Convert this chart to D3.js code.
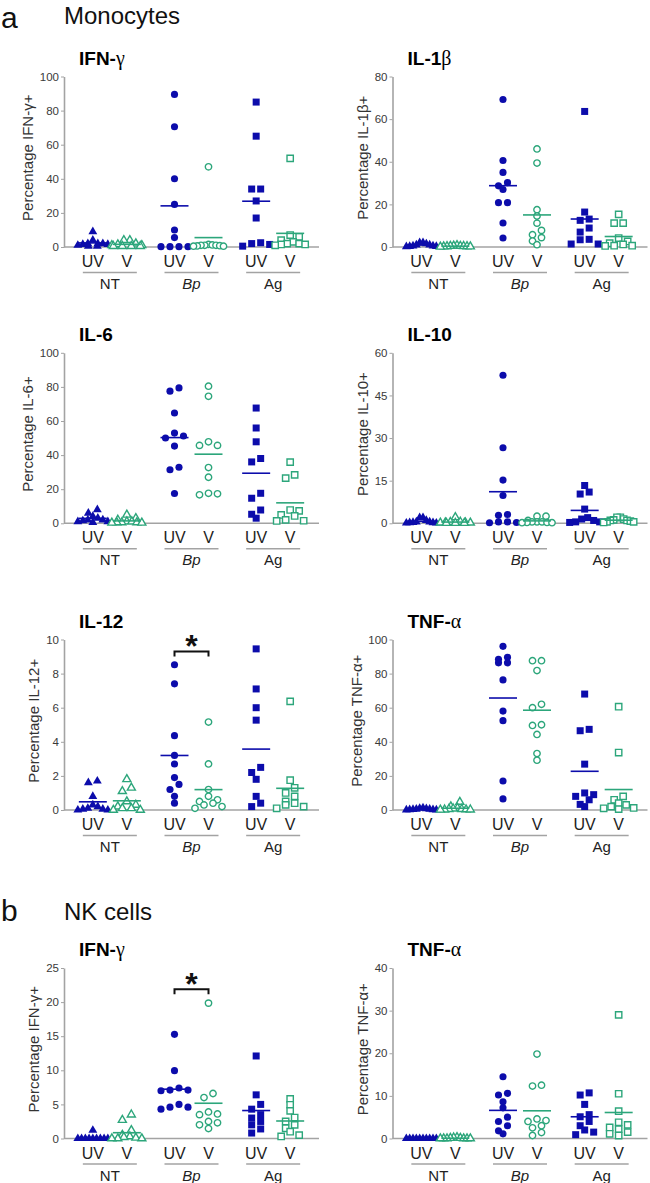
<!DOCTYPE html>
<html><head><meta charset="utf-8">
<script src="https://cdn.jsdelivr.net/npm/d3@7"></script>
<style>body{margin:0;background:#fff} svg{display:block}</style>
</head><body>
<svg id="c" width="650" height="1183"></svg>
<script>
// ---------- DATA ----------
const groups = ["NT", "Bp", "Ag"];
const conditions = ["UV", "V"];
// each panel: [NT-UV, NT-V, Bp-UV, Bp-V, Ag-UV, Ag-V]  (percentage positive cells)
const monoIFNg = [
  [9, 4, 2, 2, 2, 1.5, 1.5, 1, 0.5, 0.5],
  [4, 4, 2, 1.5, 1, 1, 0.5, 0.5, 0.5, 0.5],
  [89.5, 70.5, 40, 25, 10, 5.5, 0.2, 0.2, 0.2, 0.2],
  [47, 1.5, 1.2, 1, 1, 1, 0.8, 0.6, 0.5, 0.5],
  [85, 65, 34, 34, 27, 17, 2.5, 2, 1.5, 0.5],
  [52, 7, 6, 4, 3, 2, 2, 1.5, 1.5, 1]
];
const monoIL1b = [
  [2, 2, 1.5, 1, 1, 0.5, 0.5, 0.3, 0.3, 0.2],
  [0.8, 0.6, 0.5, 0.5, 0.4, 0.3, 0.3, 0.2, 0.2, 0.1],
  [69.2, 40.6, 35, 30.2, 28.7, 27, 20.8, 20.8, 11.25, 4.2],
  [46, 39.4, 17.5, 14.5, 11.2, 7.8, 5.8, 4.4, 2.8, 1.1],
  [63.6, 16.4, 13.1, 12.5, 8.9, 7, 3.6, 3.4, 1.4, 1.4],
  [15.3, 11.2, 11.2, 4.2, 2.6, 1.8, 1.2, 0.6, 0.6, 0.5]
];
const monoIL6 = [
  [8, 6, 4, 3, 2, 2, 1.5, 1, 1, 0.5],
  [5, 3, 2, 1, 1, 0.5, 0.5, 0.5, 0.3, 0.3],
  [79.4, 77.5, 64.7, 52.9, 51.2, 50, 45.3, 32.9, 31.4, 17.5],
  [80.4, 74.5, 47.8, 45.7, 45.7, 32.7, 27, 17.6, 17.3, 16.7],
  [67.6, 55.9, 47.8, 38, 36, 17.6, 14.7, 7.8, 5.3, 3],
  [35.9, 28.4, 26.5, 7.8, 7.3, 4.9, 4.3, 2, 1.5, 1.4]
];
const monoIL10 = [
  [2, 2, 1, 0.5, 0.5, 0.3, 0.2, 0.2, 0.1, 0.1],
  [2.1, 0.5, 0.4, 0.3, 0.3, 0.2, 0.2, 0.1, 0.1, 0.1],
  [52.1, 26.6, 15.2, 9.8, 3.1, 2.8, 0.5, 0.5, 0.3, 0.2],
  [2.5, 2.5, 1, 0.5, 0.5, 0.5, 0.3, 0.3, 0.2, 0.2],
  [13.3, 11, 10.3, 5, 2, 1.5, 1, 0.5, 0.5, 0.3],
  [2.1, 2.1, 1.5, 1.2, 1, 1, 0.8, 0.5, 0.5, 0.3]
];
const monoIL12 = [
  [1.7, 1.6, 0.8, 0.3, 0.2, 0.1, 0.05, 0.05, 0, 0],
  [1.8, 1.3, 1.1, 0.5, 0.3, 0.2, 0.1, 0.1, 0, 0],
  [8.52, 7.4, 4.36, 3.2, 2.7, 1.9, 1.5, 1.2, 0.8, 0.4],
  [5.16, 2.7, 1.2, 0.8, 0.6, 0.5, 0.4, 0.3, 0.2, 0.1],
  [9.45, 7.1, 6.0, 5.27, 2.5, 2.2, 1.8, 0.8, 0.4, 0.2],
  [6.37, 1.75, 1.3, 1, 0.8, 0.5, 0.4, 0.3, 0.2, 0.1]
];
const monoTNFa = [
  [1.2, 1, 0.8, 0.5, 0.5, 0.3, 0.2, 0.2, 0.1, 0.1],
  [4.7, 2, 1.2, 0.8, 0.5, 0.5, 0.3, 0.2, 0.2, 0.1],
  [96, 89.6, 88.4, 86.3, 86.3, 76.3, 58, 52.4, 17, 6.5],
  [87.6, 87.6, 81.8, 62, 60, 50, 49.6, 44.3, 33.1, 29.2],
  [68, 47.3, 46.5, 26.9, 10, 9, 8, 6, 3.3, 2],
  [60.6, 33.7, 8, 6, 4, 3, 2, 1.2, 1, 0.5]
];
const nkIFNg = [
  [1.2, 0, 0, 0, 0, 0, 0, 0, 0, 0],
  [3.5, 2.7, 1.2, 0.5, 0.3, 0.2, 0.1, 0, 0, 0],
  [15.27, 9.95, 7.4, 7.1, 7.1, 7.0, 5, 4.6, 4.6, 4.3],
  [19.85, 6.6, 6, 3.9, 3.6, 3.5, 2.5, 2.3, 2, 1.45],
  [12.1, 6.4, 5, 4.3, 3.5, 3, 2.5, 2, 1.4, 0.8],
  [5.8, 4.95, 4.05, 3.07, 2.5, 2, 1.5, 1, 0.5, 0.3]
];
const nkTNFa = [
  [0, 0, 0, 0, 0, 0, 0, 0, 0, 0],
  [0.3, 0.2, 0.1, 0.1, 0, 0, 0, 0, 0, 0],
  [14.5, 10.6, 10.2, 8.6, 7.2, 5, 4, 3, 1.8, 1.1],
  [19.8, 12.5, 12.3, 4.6, 4.2, 4, 3, 2.5, 1.4, 0.7],
  [10.7, 10.2, 8, 5.6, 5.1, 4, 3, 2, 1.5, 0.9],
  [29, 10.5, 6.4, 3.8, 3.2, 2.6, 2.2, 1.5, 1.1, 0.7]
];
const panelData = [monoIFNg, monoIL1b, monoIL6, monoIL10, monoIL12, monoTNFa, nkIFNg, nkTNFa];
const titleMain = ["IFN-", "IL-1", "IL-6", "IL-10", "IL-12", "TNF-", "IFN-", "TNF-"];
const titleGreek = ["γ", "β", "", "", "", "α", "γ", "α"];
const yLabels = ["Percentage IFN-γ+", "Percentage IL-1β+", "Percentage IL-6+", "Percentage IL-10+",
                 "Percentage IL-12+", "Percentage TNF-α+", "Percentage IFN-γ+", "Percentage TNF-α+"];
const yMax = [100, 80, 100, 60, 10, 100, 25, 40];
const yStep = [20, 20, 20, 15, 2, 20, 5, 10];
const sigBracket = [null, null, null, null, 9.3, null, 21.9, null]; // Bp UV vs Bp V, "*"
const sections = [["a", "Monocytes"], ["b", "NK cells"]];

// ---------- LAYOUT / STYLE ----------
const FONT = "'Liberation Sans', Arial, Helvetica, sans-serif";
const blue = "#0c0cab", green = "#2ca67b", axisGray = "#a3a3a3";
const colX = [64, 392.5];
const rowZero = [247, 523.3, 810, 1138.5];
const plotH = 170.5, axisLen = 255;
const shapeOf = {NT: d3.symbolTriangle, Bp: d3.symbolCircle, Ag: d3.symbolSquare};
const sizeFilled = {NT: 34, Bp: 40, Ag: 49};
const sizeOpen = {NT: 28, Bp: 32, Ag: 40};

const svg = d3.select("#c").style("font-family", FONT);

// section headings
const secY = [27.5, 921];
sections.forEach((s, k) => {
  svg.append("text").attr("x", 1).attr("y", secY[k]).attr("font-size", 30).attr("fill", "#111").text(s[0]);
  svg.append("text").attr("x", 64).attr("y", k === 0 ? 24 : 920).attr("font-size", 24).attr("fill", "#111").text(s[1]);
});

// beeswarm-like row layout (GraphPad style)
function arrange(values, y, D = 9, W = 30, T = 5.5) {
  const items = values.map((v, i) => ({v, i, py: y(v)}));
  const sorted = items.slice().sort((a, b) => b.v - a.v || a.i - b.i);
  const rows = [];
  sorted.forEach(it => {
    const r = rows[rows.length - 1];
    if (r && it.py - r[0].py < T) r.push(it); else rows.push([it]);
  });
  rows.forEach(r => {
    const n = r.length;
    const s = n > 1 ? Math.min(D, W / (n - 1)) : 0;
    const slots = d3.range(n).map(k => (k - (n - 1) / 2) * s)
      .sort((a, b) => Math.abs(a) - Math.abs(b) || b - a);
    r.forEach((it, k) => it.dx = slots[k]);
  });
  return items;
}

panelData.forEach((data, p) => {
  const col = p % 2, row = Math.floor(p / 2);
  const top = rowZero[row] - plotH;
  const g = svg.append("g").attr("transform", `translate(${colX[col]},${top})`);
  const y = d3.scaleLinear().domain([0, yMax[p]]).range([plotH, 0]);
  const xg = d3.scaleBand().domain(groups).range([5, 250]);
  const xc = d3.scalePoint().domain(conditions).range([-17, 17]);
  const gx = gr => xg(gr) + xg.bandwidth() / 2;

  // y axis
  const ticks = d3.range(0, yMax[p] + 1e-9, yStep[p]);
  const ax = g.append("g").call(d3.axisLeft(y).tickValues(ticks).tickSize(3).tickSizeOuter(0).tickPadding(2));
  ax.select(".domain").attr("stroke", axisGray).attr("stroke-width", 1.6);
  ax.selectAll(".tick line").attr("stroke", axisGray).attr("stroke-width", 1);
  ax.selectAll(".tick text").attr("fill", "#3a3a3a").attr("font-size", 11.5).attr("font-family", FONT);
  // x axis baseline
  g.append("line").attr("x1", 0).attr("x2", axisLen).attr("y1", y(0)).attr("y2", y(0))
    .attr("stroke", axisGray).attr("stroke-width", 1.6);

  // y label
  const digits = d3.max(ticks, t => String(t).length);
  const lx = -(digits * 6.4 + 17);
  g.append("text").attr("transform", `translate(${lx},${plotH / 2 - 4}) rotate(-90)`)
    .attr("text-anchor", "middle").attr("dy", "0.35em").attr("font-size", 15).attr("fill", "#333")
    .text(yLabels[p]);

  // title
  const t = g.append("text").attr("x", 15).attr("y", -12).attr("font-size", 19).attr("font-weight", "bold").attr("fill", "#000");
  t.append("tspan").text(titleMain[p]);
  if (titleGreek[p]) t.append("tspan").attr("font-weight", "normal").attr("font-family", "'Liberation Serif', 'DejaVu Serif', serif").attr("font-size", 20).text(titleGreek[p]);

  // x labels
  groups.forEach(gr => {
    conditions.forEach(c => {
      g.append("text").attr("x", gx(gr) + xc(c)).attr("y", plotH + 20).attr("text-anchor", "middle")
        .attr("font-size", 16).attr("fill", "#222").text(c);
    });
    g.append("line").attr("x1", gx(gr) - 27).attr("x2", gx(gr) + 27)
      .attr("y1", plotH + 25.5).attr("y2", plotH + 25.5).attr("stroke", axisGray).attr("stroke-width", 1.5);
    g.append("text").attr("x", gx(gr)).attr("y", plotH + 42).attr("text-anchor", "middle")
      .attr("font-size", 15).attr("fill", "#222").attr("font-style", gr === "Bp" ? "italic" : "normal").text(gr);
  });

  // points + mean lines
  groups.forEach((gr, gi) => {
    conditions.forEach((c, ci) => {
      const vals = data[gi * 2 + ci];
      const cx = gx(gr) + xc(c);
      const filled = c === "UV";
      const col = filled ? blue : green;
      const sym = d3.symbol().type(shapeOf[gr]).size(filled ? sizeFilled[gr] : sizeOpen[gr]);
      const pts = arrange(vals, y);
      g.append("g").selectAll("path").data(pts).join("path")
        .attr("d", sym)
        .attr("transform", d => `translate(${cx + d.dx},${d.py})`)
        .attr("fill", filled ? col : "#fff")
        .attr("stroke", filled ? "none" : col)
        .attr("stroke-width", filled ? 0 : 1.4);
      const m = d3.mean(vals);
      g.append("line").attr("x1", cx - 14).attr("x2", cx + 14).attr("y1", y(m)).attr("y2", y(m))
        .attr("stroke", col).attr("stroke-width", 1.6);
    });
  });

  // significance bracket
  if (sigBracket[p] != null) {
    const x1 = gx("Bp") + xc("UV"), x2 = gx("Bp") + xc("V"), yb = y(sigBracket[p]);
    g.append("path").attr("d", `M${x1},${yb + 5}V${yb}H${x2}V${yb + 5}`)
      .attr("fill", "none").attr("stroke", "#111").attr("stroke-width", 2);
    g.append("text").attr("x", (x1 + x2) / 2).attr("y", yb + 6).attr("text-anchor", "middle")
      .attr("font-size", 32).attr("font-weight", "bold").attr("fill", "#111").text("*");
  }
});
</script>
</body></html>
